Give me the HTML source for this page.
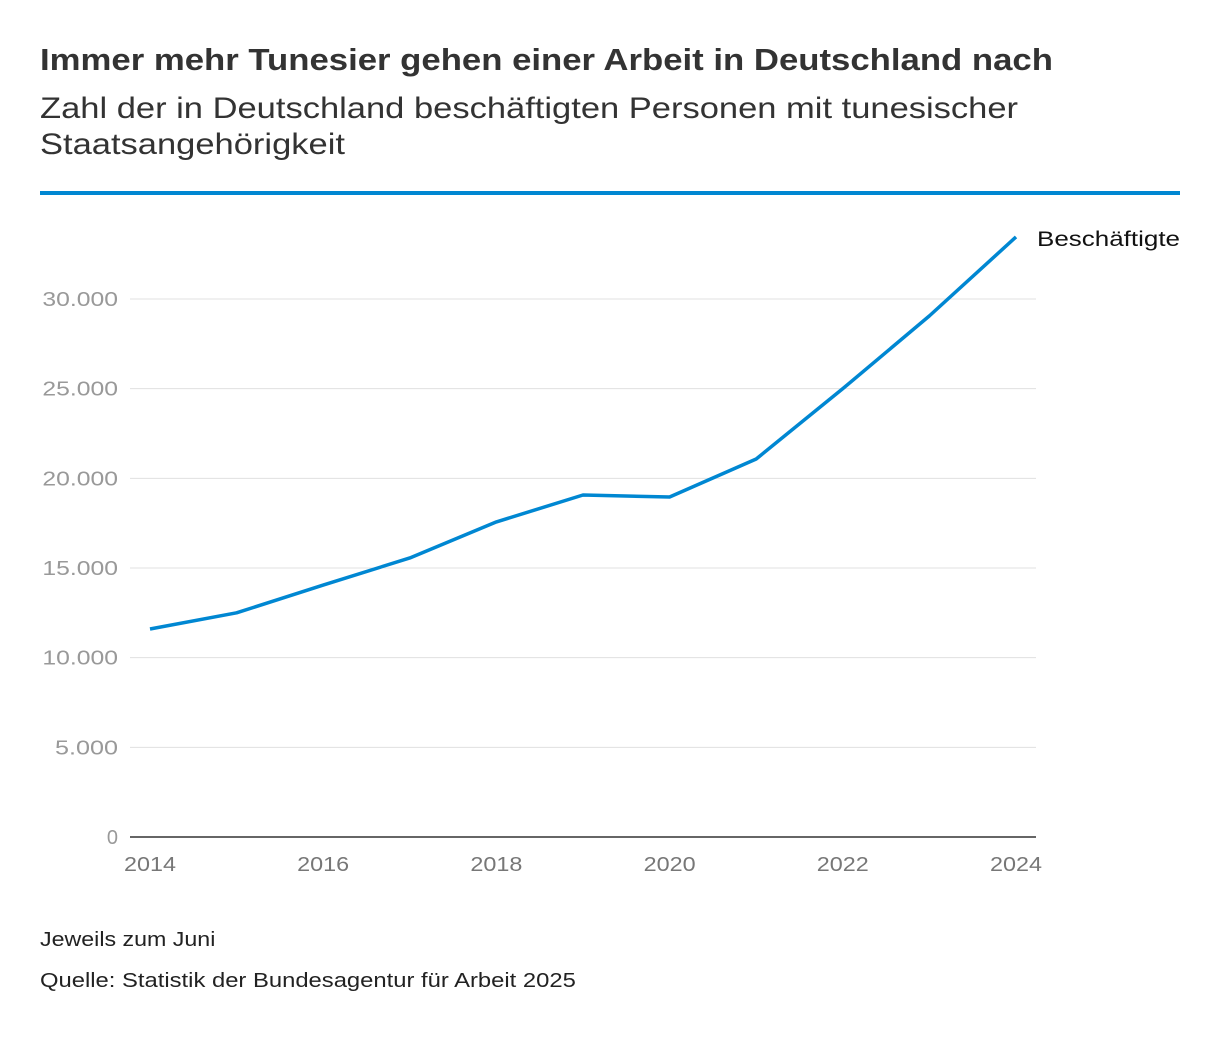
<!DOCTYPE html>
<html><head><meta charset="utf-8">
<style>
body{margin:0;background:#fff;width:1220px;height:1038px;overflow:hidden;font-family:"Liberation Sans",sans-serif;}
.t{position:absolute;left:40px;white-space:nowrap;transform-origin:0 0;}
</style></head>
<body>
<div class="t" style="top:42px;font-size:31px;font-weight:bold;color:#333;transform:scaleX(1.12);">Immer mehr Tunesier gehen einer Arbeit in Deutschland nach</div>
<div class="t" style="top:91px;font-size:30px;color:#333;line-height:36px;transform:scaleX(1.15);">Zahl der in Deutschland beschäftigten Personen mit tunesischer<br>Staatsangehörigkeit</div>
<div style="position:absolute;left:40px;top:191px;width:1140px;height:4px;background:#0087d2;"></div>
<svg id="chart" width="1220" height="1038" style="position:absolute;left:0;top:0"></svg>
<div class="t" style="top:929px;font-size:20px;color:#222;transform:scaleX(1.16);">Jeweils zum Juni</div>
<div class="t" style="top:970px;font-size:20px;color:#222;transform:scaleX(1.19);">Quelle: Statistik der Bundesagentur für Arbeit 2025</div>
<script>
const years=[2014,2015,2016,2017,2018,2019,2020,2021,2022,2023,2024];
const values=[11600,12500,14050,15560,17570,19070,18960,21080,25000,29060,33460];
const yTicks=[0,5000,10000,15000,20000,25000,30000];
const yTickLabels=["0","5.000","10.000","15.000","20.000","25.000","30.000"];
const xTicks=[2014,2016,2018,2020,2022,2024];
const seriesName="Beschäftigte";
const NS="http://www.w3.org/2000/svg";
const svg=document.getElementById('chart');
const x=v=>150+(v-2014)*86.6;
const y=v=>837-v*(538/30000);
function mk(t,a){const e=document.createElementNS(NS,t);for(const k in a)e.setAttribute(k,a[k]);svg.appendChild(e);return e;}
yTicks.forEach((v,i)=>{
 if(v>0){const l=mk('line',{x1:130,x2:1036,y1:y(v),y2:y(v),stroke:'#e0e0e0','stroke-width':1});
 
 }
 const lab=yTickLabels[i];
 const t=mk('text',{x:118,y:y(v)+7,'text-anchor':'end','font-size':20,fill:'#999','font-family':'Liberation Sans, sans-serif'});
 t.textContent=lab;
 if(lab.length>1){t.setAttribute('textLength',lab.length*12.6);t.setAttribute('lengthAdjust','spacingAndGlyphs');}
 
 
});
const ax=mk('line',{x1:130,x2:1036,y1:837,y2:837,stroke:'#333','stroke-width':1.5});


xTicks.forEach(v=>{
 const t=mk('text',{x:x(v),y:871,'text-anchor':'middle','font-size':20,fill:'#777','font-family':'Liberation Sans, sans-serif',textLength:52,lengthAdjust:'spacingAndGlyphs'});
 t.textContent=v;
 
 
});
const p=mk('polyline',{points:years.map((yr,i)=>x(yr)+','+y(values[i])).join(' '),fill:'none',stroke:'#0087d2','stroke-width':3.5,'stroke-linejoin':'round'});


const n=years.length-1;
const lb=mk('text',{x:x(years[n])+21,y:y(values[n])+9,'font-size':21,fill:'#111','font-family':'Liberation Sans, sans-serif',textLength:143,lengthAdjust:'spacingAndGlyphs'});
lb.textContent=seriesName;


</script>
</body></html>
